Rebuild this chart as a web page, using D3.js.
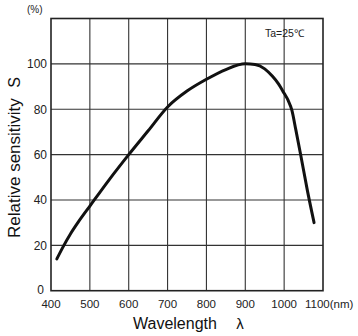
<!DOCTYPE html>
<html>
<head>
<meta charset="utf-8">
<script src="https://cdn.jsdelivr.net/npm/d3@7"></script>
<style>
  body { margin: 0; background: #fff; }
  svg { display: block; font-family: "Liberation Sans", Arial, sans-serif; }
</style>
</head>
<body>
<svg id="chart" width="358" height="336"></svg>
<script>
// spectral response
const wavelengths = [415, 430, 450, 470, 500, 550, 600, 650, 700, 750, 800, 850, 900, 925, 950, 970, 985, 1000, 1010, 1020, 1030, 1043, 1060, 1077];
const sensitivity = [14, 19, 25, 30.2, 37.3, 49, 60, 70.5, 81, 88, 93.2, 97.5, 100, 99.7, 97.8, 94.5, 91.3, 87, 84, 79.5, 71, 59.5, 44, 30];

const xTicks = [400, 500, 600, 700, 800, 900, 1000, 1100];
const yTicks = [0, 20, 40, 60, 80, 100, 120];
const yLabels = [0, 20, 40, 60, 80, 100];

const svg = d3.select("#chart");
const pL = 51, pR = 323, pT = 18.5, pB = 290.7;

const x = d3.scaleLinear().domain([400, 1100]).range([pL, pR]);
const y = d3.scaleLinear().domain([0, 120]).range([pB, pT]);

// grid
const grid = svg.append("g").attr("stroke", "#333").attr("stroke-width", 1.1);
grid.selectAll("line.v").data(xTicks.slice(1, -1)).join("line")
  .attr("x1", d => x(d)).attr("x2", d => x(d))
  .attr("y1", pT).attr("y2", pB);
grid.selectAll("line.h").data(yTicks.slice(1, -1)).join("line")
  .attr("x1", pL).attr("x2", pR)
  .attr("y1", d => y(d)).attr("y2", d => y(d));

// frame
svg.append("rect")
  .attr("x", pL).attr("y", pT)
  .attr("width", pR - pL).attr("height", pB - pT)
  .attr("fill", "none").attr("stroke", "#222").attr("stroke-width", 1.6);

// y tick labels (the 0 sits a bit higher / left, as in the original)
svg.append("g").selectAll("text").data(yLabels).join("text")
  .attr("x", d => d === 0 ? pL - 7 : pL - 4)
  .attr("y", d => d === 0 ? y(d) + 3.3 : y(d) + 4.5)
  .attr("text-anchor", "end").attr("font-size", 12).attr("fill", "#222")
  .text(d => d);

// x tick labels
svg.append("g").selectAll("text").data(xTicks.slice(0, -1)).join("text")
  .attr("x", d => x(d)).attr("y", 308)
  .attr("text-anchor", "middle").attr("font-size", 11.5).attr("fill", "#222")
  .text(d => d);
svg.append("text")
  .attr("x", x(1100) - 18).attr("y", 308)
  .attr("font-size", 11.5).attr("fill", "#222")
  .text("1100(nm)");

// units and condition
svg.append("text").attr("x", 27).attr("y", 13)
  .attr("font-size", 10).attr("fill", "#222").text("(%)");
svg.append("text").attr("x", 265).attr("y", 37)
  .attr("font-size", 10.5).attr("fill", "#222").text("Ta=25℃");

// axis titles
svg.append("text").attr("x", 133).attr("y", 329)
  .attr("font-size", 16).attr("fill", "#111").text("Wavelength");
svg.append("text").attr("x", 240).attr("y", 329)
  .attr("text-anchor", "middle").attr("font-size", 15).attr("fill", "#111").text("λ");

svg.append("text")
  .attr("transform", "translate(20,238) rotate(-90)")
  .attr("font-size", 17).attr("fill", "#111").text("Relative sensitivity");
svg.append("text")
  .attr("transform", "translate(20,82.5) rotate(-90)")
  .attr("text-anchor", "middle").attr("font-size", 16).attr("fill", "#111").text("S");

// curve
const line = d3.line()
  .x((d, i) => x(wavelengths[i]))
  .y(d => y(d))
  .curve(d3.curveMonotoneX);

svg.append("path")
  .datum(sensitivity)
  .attr("d", line)
  .attr("fill", "none")
  .attr("stroke", "#111")
  .attr("stroke-width", 3)
  .attr("stroke-linecap", "round");
</script>
</body>
</html>
